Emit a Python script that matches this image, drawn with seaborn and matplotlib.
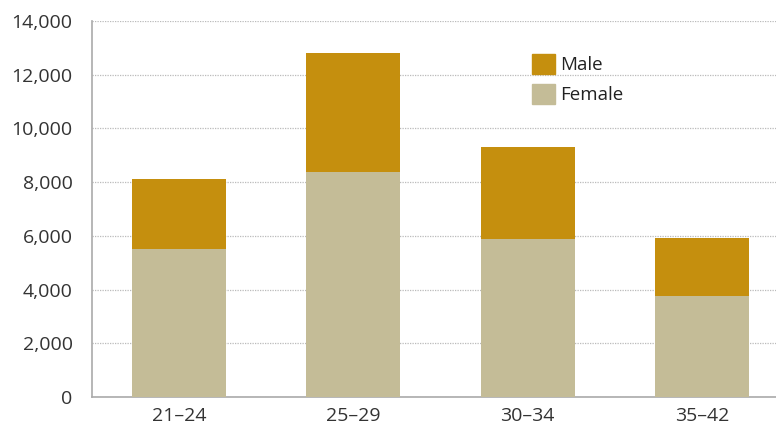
import pandas as pd
import matplotlib.pyplot as plt
import seaborn as sns
from matplotlib.patches import Patch

# age groups and counts
age_groups = ['21–24', '25–29', '30–34', '35–42']
female = [5510, 8380, 5890, 3770]
male = [2610, 4420, 3420, 2150]

df = pd.DataFrame({'age': age_groups, 'female': female, 'male': male})
df['total'] = df['female'] + df['male']

male_color = '#C58F0E'
female_color = '#C4BC97'

sns.set_style('white')
plt.rcParams['font.family'] = ['Open Sans', 'DejaVu Sans']

fig = plt.figure(figsize=(7.76, 4.28), dpi=100)
ax = fig.add_axes([92 / 776, 31 / 428, 1 - 92 / 776, (397 - 21) / 428])

# stacked bars: total (male on top) then female at the base
sns.barplot(data=df, x='age', y='total', color=male_color, saturation=1,
            width=0.54, linewidth=0, ax=ax, zorder=2)
sns.barplot(data=df, x='age', y='female', color=female_color, saturation=1,
            width=0.54, linewidth=0, ax=ax, zorder=3)

ax.set_ylim(0, 14000)
ax.set_xlim(-0.5, 3.425)
ax.set_yticks(range(0, 14001, 2000))
ax.set_yticklabels([f'{v:,}' for v in range(0, 14001, 2000)])
ax.yaxis.grid(True, linestyle=(0, (1, 1)), color='#BBBBBB', linewidth=0.9, zorder=0)
ax.set_axisbelow(True)
ax.set_xlabel('')
ax.set_ylabel('')
ax.tick_params(axis='both', labelsize=14, colors='#333333', length=0)
ax.tick_params(axis='y', pad=14)
ax.tick_params(axis='x', pad=7)

for side in ['top', 'right']:
    ax.spines[side].set_visible(False)
for side in ['left', 'bottom']:
    ax.spines[side].set_color('#AAAAAA')
    ax.spines[side].set_linewidth(1.2)

handles = [Patch(color=male_color, label='Male'), Patch(color=female_color, label='Female')]
ax.legend(handles=handles, loc='upper left', bbox_to_anchor=(0.619, 0.958), frameon=False,
          fontsize=13.5, handlelength=1.2, handleheight=1.3, labelspacing=0.5,
          handletextpad=0.3, labelcolor='#222222')

fig.savefig('out.png', dpi=100)
